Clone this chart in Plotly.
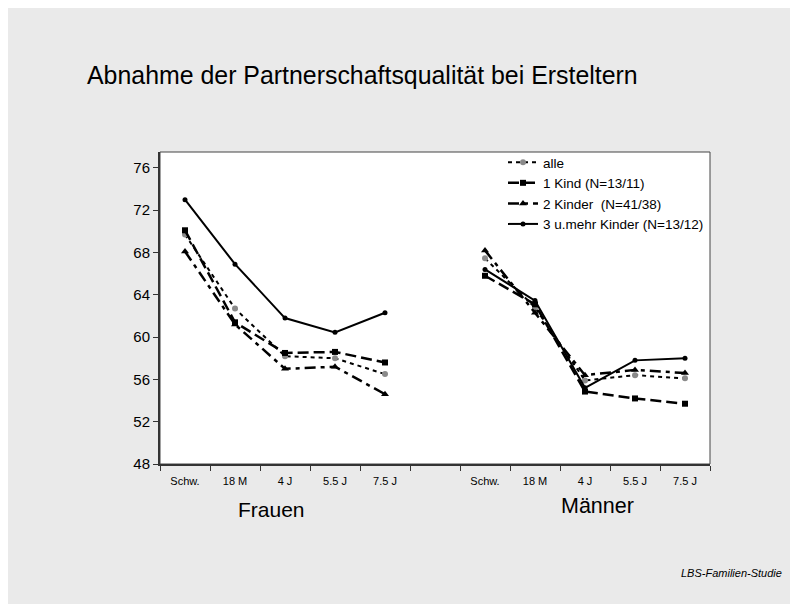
import plotly.graph_objects as go

# ------------------------------------------------------------------
# Data
# ------------------------------------------------------------------
time_labels = ["Schw.", "18 M", "4 J", "5.5 J", "7.5 J"]

alle_frauen = [69.7, 62.7, 58.2, 58.0, 56.5]
alle_maenner = [67.45, 62.8, 55.9, 56.4, 56.1]

kind1_frauen = [70.1, 61.4, 58.5, 58.6, 57.6]
kind1_maenner = [65.8, 63.1, 54.85, 54.2, 53.7]

kind2_frauen = [68.1, 61.2, 57.0, 57.2, 54.6]
kind2_maenner = [68.2, 62.3, 56.4, 56.9, 56.6]

kind3_frauen = [73.0, 66.9, 61.8, 60.45, 62.3]
kind3_maenner = [66.4, 63.45, 55.2, 57.8, 58.0]

series_names = ["alle", "1 Kind (N=13/11)", "2 Kinder&nbsp; (N=41/38)",
                "3 u.mehr Kinder (N=13/12)"]

# ------------------------------------------------------------------
# Layout geometry (page pixels; the page body adds an 8 px offset)
# ------------------------------------------------------------------
OFF = 8
W, H = 798 + OFF, 604 + OFF
L_M, R_M, T_M, B_M = 152, 104, 144, 156
PW, PH = W - L_M - R_M, H - T_M - B_M
FONT = "Liberation Sans, Arial, sans-serif"


def px_x(x):
    return (x - OFF - L_M) / PW


def px_y(y):
    return 1 - (y - OFF - T_M) / PH


# two groups of five slots with one empty slot between them
x_pos = list(range(11))
tick_text = time_labels + [""] + time_labels


def joined(frauen, maenner):
    return list(frauen) + [None] + list(maenner)


styles = [
    (alle_frauen, alle_maenner, "4px,4px", 2,
     dict(symbol="circle", size=6, color="#8a8a8a")),
    (kind1_frauen, kind1_maenner, "11px,5px", 2.5,
     dict(symbol="square", size=6, color="black")),
    (kind2_frauen, kind2_maenner, "11px,5px,4px,5px", 2.5,
     dict(symbol="triangle-up", size=7, color="black")),
    (kind3_frauen, kind3_maenner, "solid", 2,
     dict(symbol="circle", size=5, color="black")),
]

fig = go.Figure()
for name, (fr, ma, dash, width, marker) in zip(series_names, styles):
    fig.add_trace(go.Scatter(
        x=x_pos, y=joined(fr, ma),
        mode="lines+markers", name=name,
        line=dict(color="black", width=width, dash=dash),
        marker=marker, connectgaps=False,
    ))

# thin frame round the plot area
fig.add_shape(type="rect", xref="paper", yref="paper",
              x0=0, x1=1, y0=0, y1=1,
              line=dict(color="#444444", width=1), layer="below")

annotations = [
    dict(text="Frauen", x=px_x(271), y=px_y(523), font=dict(size=21)),
    dict(text="Männer", x=px_x(597), y=px_y(520), font=dict(size=21.5)),
    dict(text="<i>LBS-Familien-Studie</i>", x=px_x(784), y=px_y(581),
         xanchor="right", font=dict(size=11)),
]
for a in annotations:
    a.update(xref="paper", yref="paper", showarrow=False)
    a.setdefault("xanchor", "center")
    a["font"].update(family=FONT, color="black")
    fig.add_annotation(**a)

fig.update_layout(
    width=W, height=H,
    paper_bgcolor="#eaeaea", plot_bgcolor="white",
    margin=dict(l=L_M, r=R_M, t=T_M, b=B_M),
    font=dict(family=FONT, color="black"),
    title=dict(text="Abnahme der Partnerschaftsqualität bei Ersteltern",
               x=(87 - OFF) / W, xanchor="left",
               y=1 - (75 - OFF) / H, yanchor="middle",
               font=dict(size=24.9, family=FONT, color="black")),
    xaxis=dict(
        range=[-0.5, 10.5], tickvals=x_pos, ticktext=tick_text,
        ticks="", showgrid=False, zeroline=False,
        showline=True, linecolor="#333333", linewidth=2,
        tickfont=dict(size=11), ticklabelstandoff=6,
        minor=dict(tick0=-0.5, dtick=1, ticks="outside", ticklen=5,
                   tickcolor="#333333", tickwidth=1, showgrid=False),
    ),
    yaxis=dict(
        range=[48, 48 + PH / 10.575], tickvals=list(range(48, 80, 4)),
        ticks="outside", ticklen=5, tickcolor="#333333",
        showgrid=False, zeroline=False,
        showline=True, linecolor="#333333", linewidth=2,
        tickfont=dict(size=15),
    ),
    legend=dict(x=px_x(503), y=px_y(147), xanchor="left", yanchor="top",
                bgcolor="rgba(0,0,0,0)", font=dict(size=13.5),
                itemwidth=30, tracegroupgap=0),
    showlegend=True,
)

fig.write_html("out.html")
